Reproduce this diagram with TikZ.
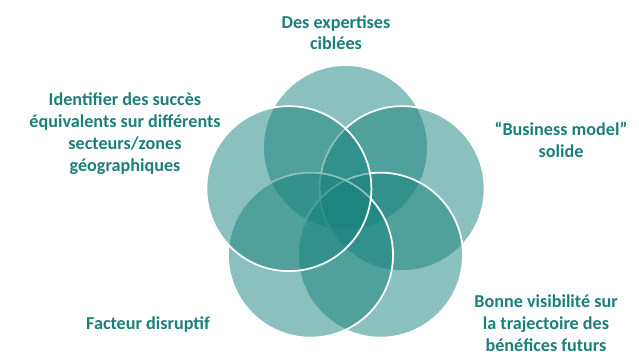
\documentclass[tikz,border=0pt]{standalone}
\usepackage{fontspec}
\setmainfont{Carlito}
\usepackage{tikz}
\usetikzlibrary{positioning, calc}
\usepackage{xcolor}
\definecolor{petal-teal}{RGB}{22,130,124}
\definecolor{label-teal}{RGB}{27,127,122}

\begin{document}
\begin{tikzpicture}[
		petal/.style={circle, minimum size=4.95cm, inner sep=0pt, fill=petal-teal, fill opacity=0.5, draw=white, line width=1.5pt},
		label/.style={align=center, text=label-teal, font=\fontsize{15.5}{18.7}\selectfont\bfseries}
	]
			\useasboundingbox (0,0) rectangle (19.17,10.62);
			\coordinate (c) at (10.365,4.41);
			\node[petal] (top) at ($(c)+(90:1.785)$) {};
			\node[petal] (right) at ($(c)+(18:1.785)$) {};
			\node[petal] (lowright) at ($(c)+(-54:1.785)$) {};
			\node[petal] (lowleft) at ($(c)+(-126:1.785)$) {};
			\node[petal] (left) at ($(c)+(162:1.785)$) {};
			%\node at (c) {};
			\node[label] (expertises) at (10.08,9.64) {Des expertises\\ciblées};
			\node[label] (succes) at (3.75,6.62) {Identifier des succès\\équivalents sur différents\\secteurs/zones\\géographiques};
			\node[label] (business) at (16.83,6.42) {“Business model”\\solide};
			\node[label] (disruptif) at (4.44,0.88) {Facteur disruptif};
			\node[label] (visibilite) at (16.38,0.93) {Bonne visibilité sur\\la trajectoire des\\bénéfices futurs};
		\end{tikzpicture}
\end{document}
